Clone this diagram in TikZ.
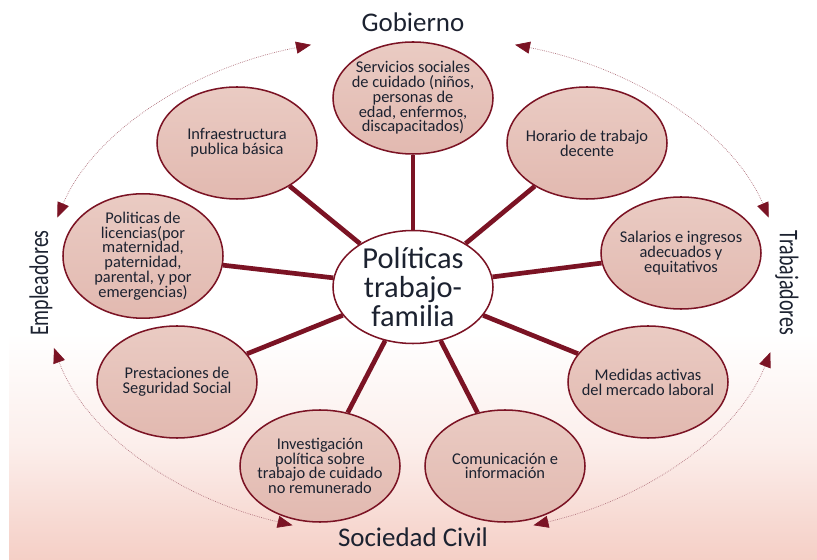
\documentclass[tikz,border=0pt]{standalone}
\usepackage{fontspec}
\setmainfont{Carlito}
\usepackage{tikz}
\usetikzlibrary{arrows.meta,shapes.geometric}

\definecolor{wine}{HTML}{7B1324}
\definecolor{blushtop}{HTML}{EACBC3}
\definecolor{blushbot}{HTML}{E2B9B0}
\definecolor{inktext}{HTML}{1C2230}
\definecolor{floorpink}{HTML}{F5CFC6}

\tikzset{
  policy/.style={ellipse, draw=wine, line width=1.3pt, top color=blushtop, bottom color=blushbot,
    minimum width=4.8cm, minimum height=3.36cm, inner xsep=-12pt, inner ysep=0pt, align=center,
    text=inktext, font=\fontsize{14}{12.6}\selectfont},
  hub/.style={ellipse, draw=wine, line width=1.3pt, fill=white,
    minimum width=4.8cm, minimum height=3.39cm, inner xsep=-12pt, inner ysep=-6pt, align=center,
    text=inktext, font=\fontsize{26}{24.5}\selectfont},
  spoke/.style={draw=wine, line width=4pt},
  actor/.style={text=inktext, font=\fontsize{23}{23}\selectfont, inner sep=0pt},
  cycle/.style={draw=wine!60, densely dotted, line width=0.6pt,
    {Triangle[length=4.5mm,width=3.6mm,color=wine]}-{Triangle[length=4.5mm,width=3.6mm,color=wine]}}
}

\begin{document}
\begin{tikzpicture}

% page and pink floor
\fill[white] (0,0) rectangle (24.51,16.77);
\useasboundingbox (0,0) rectangle (24.51,16.77);
\shade[top color=white, bottom color=floorpink, middle color=floorpink!35] (0.27,0) rectangle (24.51,6.78);

% hub
\node[hub] (hub) at (12.39,8.16) {Políticas\\trabajo-\\familia};

% policies round the hub
\node[policy] (care) at (12.39,13.83) {Servicios sociales\\de cuidado (niños,\\personas de\\edad, enfermos,\\discapacitados)};
\node[policy] (hours) at (17.61,12.48) {Horario de trabajo\\decente};
\node[policy] (infra) at (7.11,12.48) {Infraestructura\\publica básica};
\node[policy] (leave) at (4.29,9.09) {Politicas de\\licencias(por\\maternidad,\\paternidad,\\parental, y por\\emergencias)};
\node[policy] (wages) at (20.43,9.18) {Salarios e ingresos\\adecuados y\\equitativos};
\node[policy] (social) at (5.31,5.31) {Prestaciones de\\Seguridad Social};
\node[policy] (labour) at (19.44,5.31) {Medidas activas\\del mercado laboral};
\node[policy] (research) at (9.60,2.79) {Investigación\\política sobre\\trabajo de cuidado\\no remunerado};
\node[policy] (inform) at (15.15,2.79) {Comunicación e\\información};

% spokes
\foreach \p in {care,hours,infra,leave,wages,social,labour,research,inform}
  \draw[spoke] (hub) -- (\p);

% actors
\node[actor] (gov) at (12.39,16.11) {Gobierno};
\node[actor] (civil) at (12.39,0.66) {Sociedad Civil};
\node[actor, rotate=90] (employers) at (1.23,8.28) {\scalebox{0.74}[1]{Empleadores}};
\node[actor, rotate=-90] (workers) at (23.61,8.28) {\scalebox{0.74}[1]{Trabajadores}};

% ends of the dotted cycle
\path (hub.center) ++(106:11.1cm and 7.56cm) coordinate (gov-w);
\path (hub.center) ++(74:11.1cm and 7.56cm) coordinate (gov-e);
\path (hub.center) ++(164:11.1cm and 7.56cm) coordinate (emp-n);
\path (hub.center) ++(194:11.1cm and 7.56cm) coordinate (emp-s);
\path (hub.center) ++(16:11.1cm and 7.56cm) coordinate (wrk-n);
\path (hub.center) ++(-15:11.1cm and 7.56cm) coordinate (wrk-s);
\path (hub.center) ++(251:11.1cm and 7.56cm) coordinate (civ-w);
\path (hub.center) ++(289:11.1cm and 7.56cm) coordinate (civ-e);

% dotted cycle
\draw[cycle] (emp-n) arc[start angle=164, end angle=106, x radius=11.1cm, y radius=7.56cm];
\draw[cycle] (gov-e) arc[start angle=74, end angle=16, x radius=11.1cm, y radius=7.56cm];
\draw[cycle] (wrk-s) arc[start angle=-15, end angle=-71, x radius=11.1cm, y radius=7.56cm];
\draw[cycle] (civ-w) arc[start angle=251, end angle=194, x radius=11.1cm, y radius=7.56cm];

\end{tikzpicture}
\end{document}
